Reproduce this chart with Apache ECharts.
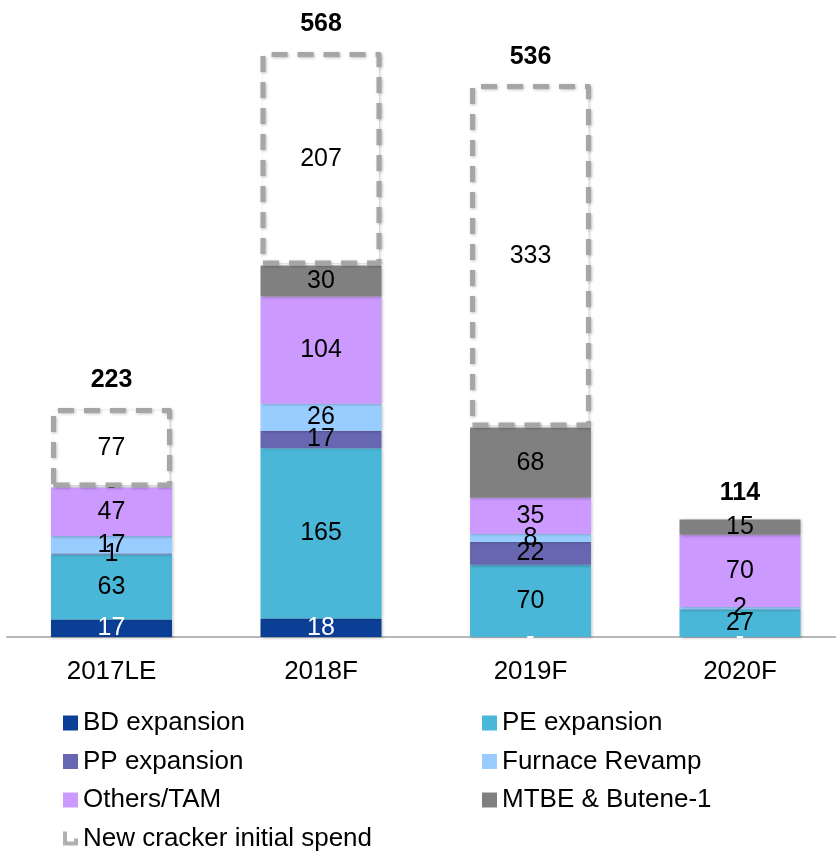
<!DOCTYPE html>
<html>
<head>
<meta charset="utf-8">
<script src="https://cdn.jsdelivr.net/npm/echarts@6/dist/echarts.min.js"></script>
<style>
  html, body { margin: 0; padding: 0; background: #fff; overflow: hidden; }
  #chart { width: 846px; height: 855px; }
</style>
</head>
<body>
<div id="chart"></div>
<script>
// categories and values (null = no segment, 0 = shown as "-")
const years = ['2017LE', '2018F', '2019F', '2020F'];
const bdExpansion = [17, 18, 0, 0];
const peExpansion = [63, 165, 70, 27];
const ppExpansion = [1, 17, 22, null];
const furnaceRevamp = [17, 26, 8, 2];
const othersTam = [47, 104, 35, 70];
const mtbeButene = [0, 30, 68, 15];
const newCracker = [77, 207, 333, null];
const totals = [223, 568, 536, 114];

const FONT = '"Liberation Sans", Arial, sans-serif';

const chart = echarts.init(document.getElementById('chart'));

// build one stacked segment series
function segment(name, values, color, textColor) {
  return {
    name: name,
    type: 'bar',
    stack: 'capex',
    barWidth: 121,
    data: values.map(v => (v === null ? '-' : v)),
    itemStyle: {
      color: color,
      shadowBlur: 3,
      shadowOffsetX: 1,
      shadowOffsetY: 1,
      shadowColor: 'rgba(0,0,0,0.25)'
    },
    label: {
      show: true,
      position: 'inside',
      color: textColor || '#000',
      fontFamily: FONT,
      fontSize: 25,
      formatter: p => (p.value === 0 ? '-' : p.value)
    },
    emphasis: { disabled: true }
  };
}

const series = [
  segment('BD expansion', bdExpansion, '#0b3f96', '#fff'),
  segment('PE expansion', peExpansion, '#4bb7d8'),
  segment('PP expansion', ppExpansion, '#6766b0'),
  segment('Furnace Revamp', furnaceRevamp, '#99ccff'),
  segment('Others/TAM', othersTam, '#cc99ff'),
  segment('MTBE & Butene-1', mtbeButene, '#808080'),
  {
    name: 'New cracker initial spend',
    type: 'bar',
    stack: 'capex',
    barWidth: 121,
    data: newCracker.map(v => (v === null ? '-' : v)),
    itemStyle: {
      color: '#fff',
      borderColor: '#a6a6a6',
      borderWidth: 5,
      borderType: [16, 10],
      borderJoin: 'round',
      shadowBlur: 3,
      shadowOffsetX: 1,
      shadowOffsetY: 1,
      shadowColor: 'rgba(0,0,0,0.25)'
    },
    label: {
      show: true,
      position: 'inside',
      color: '#000',
      fontFamily: FONT,
      fontSize: 25
    },
    emphasis: { disabled: true },
    z: 3
  },
  {
    name: 'Total',
    type: 'bar',
    stack: 'total',
    barWidth: 121,
    barGap: '-100%',
    data: totals,
    itemStyle: { color: 'rgba(0,0,0,0)' },
    label: {
      show: true,
      position: 'top',
      distance: 14,
      color: '#000',
      fontFamily: FONT,
      fontWeight: 'bold',
      fontSize: 25
    },
    emphasis: { disabled: true },
    silent: true,
    z: 1
  }
];

const legendText = { fontFamily: FONT, fontSize: 26, color: '#000' };
const bracketIcon = 'path://M0,0 L4,0 L4,10 L11,10 L11,7 L15,7 L15,14 L0,14 Z';

const option = {
  animation: false,
  grid: { left: 6.75, top: 18, width: 838, height: 619, containLabel: false },
  xAxis: {
    type: 'category',
    data: years,
    axisLine: { lineStyle: { color: '#a0a0a0', width: 1.5 } },
    axisTick: { show: false },
    axisLabel: { color: '#000', fontFamily: FONT, fontSize: 26, margin: 22 }
  },
  yAxis: {
    type: 'value',
    min: 0,
    max: 600,
    show: false
  },
  legend: [
    {
      orient: 'vertical',
      left: 63,
      top: 710,
      padding: 0,
      itemWidth: 15,
      itemHeight: 15,
      itemGap: 12.5,
      textStyle: legendText,
      data: [
        { name: 'BD expansion', icon: 'rect' },
        { name: 'PP expansion', icon: 'rect' },
        { name: 'Others/TAM', icon: 'rect' },
        { name: 'New cracker initial spend', icon: bracketIcon,
          itemStyle: { color: '#b0b0b0', borderWidth: 0, shadowBlur: 0 } }
      ]
    },
    {
      orient: 'vertical',
      left: 482,
      top: 710,
      padding: 0,
      itemWidth: 15,
      itemHeight: 15,
      itemGap: 12.5,
      textStyle: legendText,
      data: [
        { name: 'PE expansion', icon: 'rect' },
        { name: 'Furnace Revamp', icon: 'rect' },
        { name: 'MTBE & Butene-1', icon: 'rect' }
      ]
    }
  ],
  series: series
};

chart.setOption(option);
</script>
</body>
</html>
